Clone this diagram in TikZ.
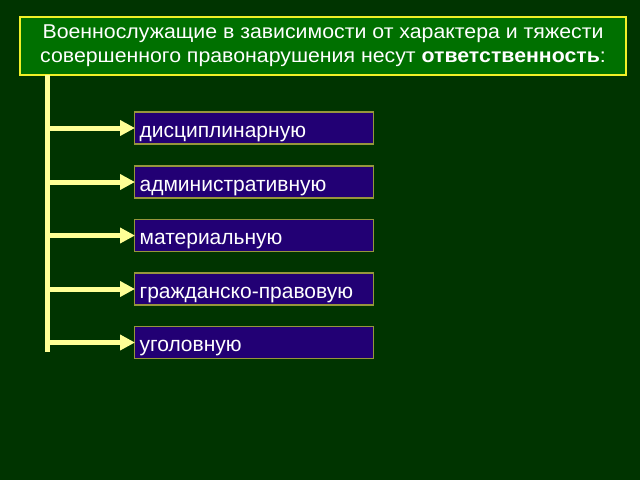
\documentclass[tikz,border=0pt]{standalone}
\usepackage{fontspec}
\setmainfont{Liberation Sans}
\newfontfamily\headfont[FakeStretch=1.065]{Liberation Sans}
\usetikzlibrary{arrows.meta}
\definecolor{board}{RGB}{0,52,0}
\definecolor{headgreen}{RGB}{0,112,0}
\definecolor{headrim}{RGB}{240,240,40}
\definecolor{kindfill}{RGB}{34,0,116}
\definecolor{kindrim}{RGB}{150,150,60}
\definecolor{lemon}{RGB}{255,255,150}
\tikzset{
  head/.style={draw=headrim,line width=2.5pt,fill=headgreen,text=white,
    minimum width=606,minimum height=58,align=center,inner sep=0pt,
    font=\headfont\fontsize{20}{24.3}\selectfont},
  kind/.style={draw=kindrim,line width=1.2pt,fill=kindfill,text=white,anchor=west,
    minimum width=239,minimum height=32,text width=229,align=left,
    inner xsep=5pt,inner ysep=6pt,text height=19pt,text depth=1pt,
    font=\fontsize{21}{23}\selectfont},
  rail/.style={lemon,line width=5pt},
  branch/.style={lemon,line width=5pt,-{Triangle[length=15pt,width=15pt]},shorten >=-1pt}
}
\begin{document}
\begin{tikzpicture}[x=1pt,y=-1pt]
\fill[board] (0,0) rectangle (640,480);
\useasboundingbox (0,0) rectangle (640,480);
\node[head] (title) at (323,46) {Военнослужащие в зависимости от характера и тяжести\\
  совершенного правонарушения несут \textbf{ответственность}:};
\coordinate (top) at (47.5,75);
\coordinate (bottom) at (47.5,352);
\draw[rail] (top) -- (bottom);
\node[kind] (disc) at (134,128) {дисциплинарную};
\node[kind] (adm) at (134,182) {административную};
\node[kind] (mat) at (134,235.5) {материальную};
\node[kind] (civ) at (134,289) {гражданско-правовую};
\node[kind] (crim) at (134,342.5) {уголовную};
\foreach \k in {disc,adm,mat,civ,crim}
  \draw[branch] (top |- \k.west) -- (\k.west);
\end{tikzpicture}
\end{document}
